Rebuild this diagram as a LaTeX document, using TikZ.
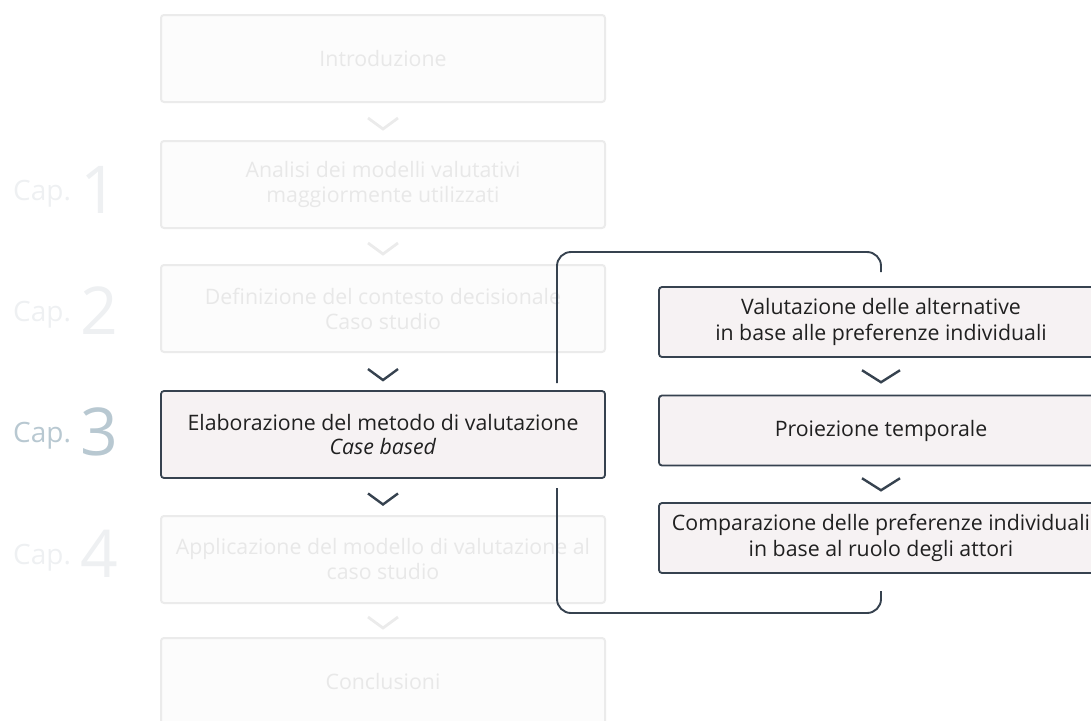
\documentclass[tikz,border=0pt]{standalone}
\usepackage{fontspec}
\setmainfont{Open Sans}
\usetikzlibrary{calc}

\definecolor{ghostline}{HTML}{EBEBEB}
\definecolor{ghostfill}{HTML}{FCFCFC}
\definecolor{ghosttext}{HTML}{E8E8E8}
\definecolor{slate}{HTML}{36424F}
\definecolor{activefill}{HTML}{F6F2F3}
\definecolor{inktext}{HTML}{202020}
\definecolor{capactive}{HTML}{B8C8D1}
\definecolor{capghost}{HTML}{EEF0F2}

\tikzset{
  ghostbox/.style={draw=ghostline, line width=2pt, fill=ghostfill, rounded corners=3pt,
    minimum width=444pt, minimum height=87pt, align=center, text=ghosttext,
    font=\fontsize{21.3}{25}\selectfont, inner sep=0pt},
  activebox/.style={draw=slate, line width=1.8pt, fill=activefill, rounded corners=3pt,
    minimum width=444pt, minimum height=87pt, align=center, text=inktext,
    font=\fontsize{21.3}{24}\selectfont, inner sep=0pt},
  stagebox/.style={activebox, minimum height=70pt, font=\fontsize{21.3}{26}\selectfont},
  chevghost/.style={draw=ghostline, line width=2.8pt},
  chevdark/.style={draw=slate, line width=2.4pt},
  chev/.pic={\draw[pic actions] (-15,-5.5) -- (0,5.5) -- (15,-5.5);},
  chevwide/.pic={\draw[pic actions] (-19,-6) -- (0,6) -- (19,-6);},
  bracket/.style={draw=slate, line width=1.9pt, rounded corners=14pt},
  capword/.style={font=\fontsize{28}{28}\selectfont, inner sep=0pt, anchor=base west},
  capnum/.style={font=\fontsize{66}{66}\selectfont, inner sep=0pt, anchor=base west},
}

\begin{document}
\begin{tikzpicture}[x=1pt, y=-1pt]
\path[use as bounding box] (0,0) rectangle (1091,720);
\begin{scope}
\clip (0,0) rectangle (1091,720);

% chapter markers
\node[capword, text=capghost] (cw1) at (13,200) {Cap.};
\node[capnum, text=capghost] (cn1) at (80,213) {1};
\node[capword, text=capghost] (cw2) at (13,321) {Cap.};
\node[capnum, text=capghost] (cn2) at (80,334) {2};
\node[capword, text=capactive] (cw3) at (13,442) {Cap.};
\node[capnum, text=capactive] (cn3) at (80,455) {3};
\node[capword, text=capghost] (cw4) at (13,564) {Cap.};
\node[capnum, text=capghost] (cn4) at (80,577) {4};

% thesis outline (inactive chapters)
\node[ghostbox] (intro) at (383,58.5) {Introduzione};
\node[ghostbox] (ana) at (383,184.5) {Analisi dei modelli valutativi\\maggiormente utilizzati};
\node[ghostbox] (def) at (383,308.5) {Definizione del contesto decisionale\\Caso studio};
\node[ghostbox] (app) at (383,559.5) {Applicazione del modello di valutazione al\\caso studio};
\node[ghostbox] (concl) at (383,681.5) {Conclusioni};

% chevrons between outline boxes
\pic[chevghost] at ($(intro.south)!0.5!(ana.north)+(0,2)$) {chev};
\pic[chevghost] at ($(ana.south)!0.5!(def.north)+(0,2)$) {chev};
\pic[chevghost] at ($(app.south)!0.5!(concl.north)+(0,2)$) {chev};

% bracket around the method detail
\coordinate (btop) at (557,383);
\coordinate (bbot) at (557,488);
\coordinate (rtop) at (881,272);
\coordinate (rbot) at (881,591);
\path[bracket] (btop) |- (881,252) -- (rtop);
\path[bracket] (bbot) |- (881,613) -- (rbot);

% current chapter
\node[activebox] (elab) at (383,434.5) {Elaborazione del metodo di valutazione\\\textit{Case based}};
\pic[chevdark] at ($(def.south)!0.5!(elab.north)+(0,3)$) {chev};
\pic[chevdark] at ($(elab.south)!0.5!(app.north)+(0,2)$) {chev};

% method stages
\node[stagebox] (val) at (881,322) {Valutazione delle alternative\\in base alle preferenze individuali};
\node[stagebox] (proj) at (881,430.5) {Proiezione temporale};
\node[stagebox] (comp) at (881,538) {Comparazione delle preferenze individuali\\in base al ruolo degli attori};
\pic[chevdark] at ($(val.south)!0.5!(proj.north)+(0,0)$) {chevwide};
\pic[chevdark] at ($(proj.south)!0.5!(comp.north)+(0,0)$) {chevwide};
\end{scope}
\end{tikzpicture}
\end{document}
